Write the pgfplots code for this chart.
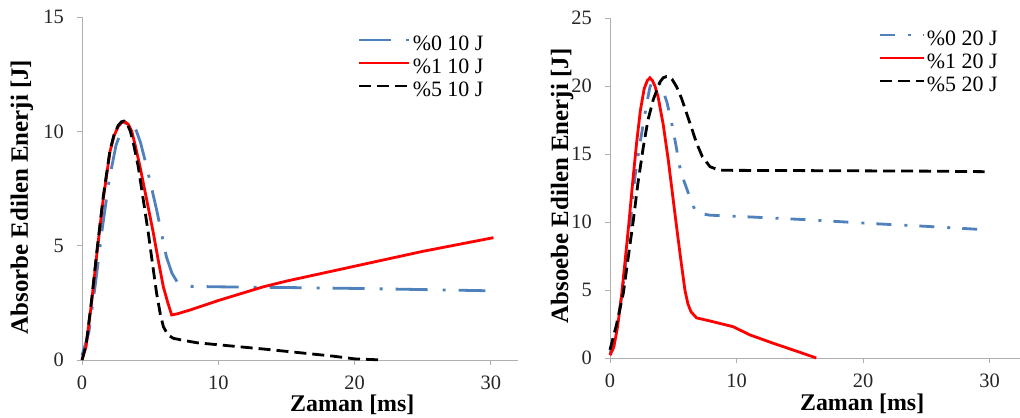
\documentclass[border=0pt]{standalone}
\usepackage{fontspec}
\setmainfont{Liberation Serif}
\usepackage{pgfplots}
\pgfplotsset{compat=1.18}
\definecolor{sblue}{RGB}{79,129,189}
\definecolor{sred}{RGB}{255,0,0}
\definecolor{axgray}{RGB}{175,175,175}
\tikzset{xlbl/.style={font=\bfseries\fontsize{24}{27}\selectfont},
         ylbl/.style={font=\bfseries\fontsize{25}{28}\selectfont}}
\pgfplotsset{
  mystyle/.style={
    scale only axis,
    axis x line*=bottom, axis y line*=left,
    axis line style={draw=axgray, line width=0.9bp, -},
    tick style={draw=axgray, line width=0.9bp},
    tick align=outside, major tick length=5bp,
    xmin=0, ymin=0,
    xtick={0,10,20,30},
    /pgf/number format/assume math mode=true,
    ticklabel style={font=\fontsize{20.5}{23}\selectfont, text=black!85},
    yticklabel style={inner sep=0pt, xshift=-13bp},
    xticklabel style={inner sep=0pt, yshift=-11bp},
    clip=false,
    legend cell align=left,
    legend style={draw=none, fill=none, inner sep=0pt, outer sep=0pt,
      row sep=0pt, column sep=0pt,
      font=\fontsize{22}{24}\selectfont,
      nodes={text height=15bp, text depth=4bp, inner sep=2bp}},
  },
}
\begin{document}
\begin{tikzpicture}
\useasboundingbox (0,0) rectangle (1020bp,418bp);
% ---------------- left ----------------
\begin{axis}[mystyle,
  at={(82bp,58bp)}, anchor=south west,
  width=436bp, height=343bp,
  xmax=32, ymax=15,
  ytick={0,5,10,15},
  xlabel={Zaman [ms]}, ylabel={Absorbe Edilen Enerji [J]},
  x label style={xlbl, at={(axis description cs:0.62,-0.131)}, anchor=center},
  y label style={ylbl, at={(axis description cs:-0.1376,0.475)}, anchor=center},
  legend style={at={(0.633,0.952)}, anchor=north west},
  legend image code/.code={\draw[#1] (0bp,5bp) -- (50bp,5bp);},
]
\addplot[sblue, line width=2.8bp, dash pattern=on 32bp off 15bp on 3bp off 13bp] coordinates {
(0,0.2)(0.5,1.2)(1,3.4)(1.5,5.8)(2,7.9)(2.5,9.4)(3,10.2)(3.25,10.38)(3.52,10.42)(3.75,10.3)(4.0,10.0)(4.3,9.5)(4.62,8.75)(5.0,7.8)(5.48,6.56)(5.85,5.5)(6.2,4.5)(6.6,3.8)(7.0,3.4)(7.3,3.28)(8,3.22)(10,3.2)(15,3.17)(20,3.13)(25,3.08)(29.6,3.03)};
\addlegendentry{\%0 10 J}
\addplot[sred, line width=2.8bp] coordinates {
(0,0)(0.3,0.6)(0.7,2.5)(1.1,4.7)(1.55,7.0)(2.05,9.1)(2.35,9.8)(2.65,10.2)(2.9,10.38)(3.15,10.42)(3.4,10.3)(3.65,10.0)(3.9,9.4)(4.26,8.45)(4.75,7.0)(5.24,5.54)(5.6,4.35)(5.97,3.2)(6.3,2.5)(6.58,1.97)(7,2.02)(8,2.2)(10,2.6)(13.3,3.2)(15,3.45)(20,4.1)(25,4.75)(30.2,5.35)};
\addlegendentry{\%1 10 J}
\addplot[black, line width=2.8bp, dash pattern=on 12bp off 6bp] coordinates {
(0,0)(0.3,0.65)(0.7,2.6)(1.1,4.8)(1.55,7.1)(2.05,9.15)(2.35,9.85)(2.65,10.25)(2.9,10.42)(3.1,10.45)(3.3,10.35)(3.55,10.0)(3.8,9.4)(4.13,8.45)(4.5,7.0)(4.87,5.54)(5.2,4.1)(5.48,2.9)(5.75,2.0)(5.97,1.46)(6.3,1.1)(6.7,0.95)(7.5,0.85)(8.5,0.75)(13.5,0.47)(18.4,0.17)(20,0.05)(22.1,0)};
\addlegendentry{\%5 10 J}
\end{axis}
% ---------------- right ----------------
\begin{axis}[mystyle,
  at={(610bp,60bp)}, anchor=south west,
  width=410bp, height=340bp,
  xmax=32.4, ymax=25,
  ytick={0,5,10,15,20,25},
  xlabel={Zaman [ms]}, ylabel={Absoebe Edilen Enerji [J]},
  x label style={xlbl, at={(axis description cs:0.615,-0.135)}, anchor=center},
  y label style={ylbl, at={(axis description cs:-0.117,0.506)}, anchor=center},
  legend style={at={(0.654,0.969)}, anchor=north west},
  legend image code/.code={\draw[#1] (0bp,5bp) -- (44bp,5bp);},
]
\addplot[sblue, line width=2.8bp, dash pattern=on 15bp off 13bp on 3bp off 12bp] coordinates {
(0,0.3)(0.5,2.0)(1,5.0)(1.5,9.0)(1.97,13.3)(2.37,15.8)(2.9,18.7)(3.15,19.9)(3.4,20.5)(3.7,20.5)(4.08,19.95)(4.5,18.8)(4.87,17.3)(5.2,15.7)(5.5,14.1)(5.85,13.0)(6.2,12.1)(6.7,10.9)(7.3,10.6)(7.9,10.5)(10,10.42)(15.5,10.17)(20.8,9.88)(25,9.68)(29.5,9.44)};
\addlegendentry{\%0 20 J}
\addplot[sred, line width=2.8bp] coordinates {
(0,0.2)(0.3,0.8)(0.6,2.3)(0.9,4.5)(1.2,7.2)(1.5,10.0)(1.8,13.0)(2.1,15.8)(2.4,18.2)(2.7,19.8)(2.95,20.4)(3.15,20.6)(3.35,20.4)(3.55,20.0)(3.8,19.2)(4.2,17.2)(4.6,14.6)(5.26,9.65)(5.6,7.2)(5.92,5.0)(6.15,4.0)(6.4,3.4)(6.84,2.95)(8,2.7)(9.73,2.3)(11.05,1.7)(13,1.05)(15,0.42)(16.3,0)};
\addlegendentry{\%1 20 J}
\addplot[black, line width=2.8bp, dash pattern=on 12bp off 6bp] coordinates {
(0,0.6)(0.5,2.4)(1.05,4.75)(1.5,7.8)(1.84,10.1)(2.2,12.8)(2.63,15.5)(3.0,17.5)(3.42,19.0)(3.95,20.3)(4.2,20.6)(4.47,20.7)(4.7,20.65)(4.9,20.5)(5.26,19.95)(5.65,19.1)(6.05,18.0)(6.45,16.9)(6.84,15.8)(7.3,14.8)(7.9,14.07)(8.5,13.85)(8.94,13.8)(15,13.78)(20,13.76)(25,13.74)(29.6,13.7)};
\addlegendentry{\%5 20 J}
\end{axis}
\end{tikzpicture}
\end{document}
